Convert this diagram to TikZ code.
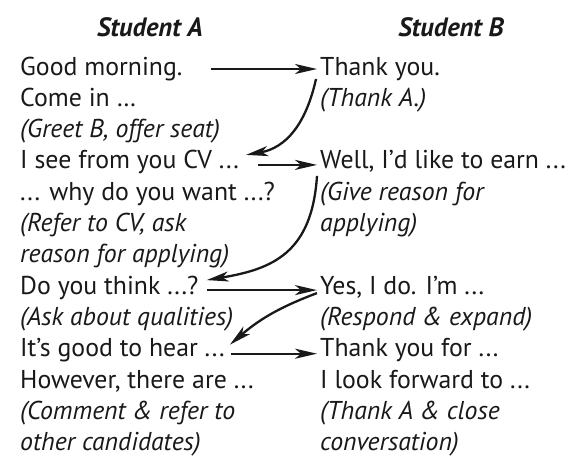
\documentclass[tikz,border=0pt]{standalone}
\usepackage{fontspec}
\setmainfont{PT Sans}
\usetikzlibrary{arrows.meta}
\usetikzlibrary{positioning}

\begin{document}
\begin{tikzpicture}[x=1pt, y=1pt,
    every node/.style={inner sep=0pt, anchor=base west, text=black!90,
      font=\fontsize{25.8}{31}\selectfont},
    note/.style={font=\fontsize{25.8}{31}\selectfont\itshape},
    head/.style={anchor=base, font=\fontsize{26.5}{32}\selectfont\bfseries\itshape},
    arr/.style={-{Stealth[length=22pt,width=10pt,inset=6pt]}, line width=2.3pt, black!90},
  ]
  \fill[white] (0,0) rectangle (573,-461);
  \useasboundingbox (0,0) rectangle (573,-461);

  % headings
  \node[head] (sa) at (150,-36) {Student A};
  \node[head] (sb) at (451,-36) {Student B};

  % student A
  \node (gm) at (20,-75) {Good morning.};
  \node (ci) at (20,-106.3) {Come in …};
  \node[note] (greet) at (20,-137.6) {(Greet B, offer seat)};
  \node (see) at (20,-168.9) {I see from you CV ...};
  \node (why) at (20,-200.2) {... why do you want ...?};
  \node[note] (refer) at (20,-231.5) {(Refer to CV, ask};
  \node[note] (reason) at (20,-262.8) {reason for applying)};
  \node (think) at (20,-294.1) {Do you think ...?};
  \node[note] (ask) at (20,-325.4) {(Ask about qualities)};
  \node (good) at (20,-356.7) {It’s good to hear ...};
  \node (however) at (20,-388) {However, there are ...};
  \node[note] (comment) at (20,-419.3) {(Comment \& refer to};
  \node[note] (other) at (20,-450.6) {other candidates)};

  % student B
  \node (ty) at (320,-75) {Thank you.};
  \node[note] (thanka) at (320,-106.3) {(Thank A.)};
  \node (well) at (320,-168.9) {Well, I’d like to earn ...};
  \node[note] (give) at (320,-200.2) {(Give reason for};
  \node[note] (applying) at (320,-231.5) {applying)};
  \node (yes) at (320,-294.1) {Yes, I do. I’m ...};
  \node[note] (respond) at (320,-325.4) {(Respond \& expand)};
  \node (tyf) at (320,-356.7) {Thank you for ...};
  \node (look) at (320,-388) {I look forward to ...};
  \node[note] (close) at (320,-419.3) {(Thank A \& close};
  \node[note] (conv) at (320,-450.6) {conversation)};

  % turns
  \draw[arr] ([xshift=28pt,yshift=6pt]gm.base east) -- ([xshift=-3pt,yshift=6pt]ty.base west);
  \draw[arr] ([xshift=-4pt,yshift=-4pt]ty.base west) .. controls +(-10,-45) and +(40,7) .. ([xshift=7pt,yshift=14pt]see.base east);
  \draw[arr] ([xshift=19pt,yshift=4pt]see.base east) -- ([xshift=-3pt,yshift=4pt]well.base west);
  \draw[arr] ([xshift=-3pt,yshift=-7pt]well.base west) .. controls +(-5,-77) and +(66,11) .. ([xshift=8pt,yshift=14pt]think.base east);
  \draw[arr] ([xshift=8pt,yshift=4pt]think.base east) -- ([xshift=-3pt,yshift=4pt]yes.base west);
  \draw[arr] ([xshift=-3pt,yshift=1pt]yes.base west) to[bend right=10] ([xshift=5pt,yshift=12pt]good.base east);
  \draw[arr] ([xshift=6pt,yshift=3pt]good.base east) -- ([xshift=-3pt,yshift=3pt]tyf.base west);
\end{tikzpicture}
\end{document}
